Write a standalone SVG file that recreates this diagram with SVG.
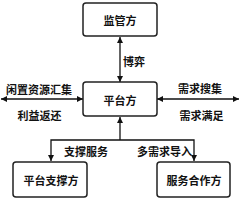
<svg xmlns="http://www.w3.org/2000/svg" width="240" height="200" viewBox="0 0 240 200">
<style>
.box{fill:#fff;stroke:#222;stroke-width:1.5}
.t{font-family:"Noto Sans CJK SC","Noto Sans",sans-serif;font-weight:bold;font-size:11px;fill:#111;text-anchor:middle;dominant-baseline:central}
.c{fill:none;stroke:#111;stroke-width:1.3}
</style>
<defs>
<marker id="ah" viewBox="0 0 10 10" refX="10" refY="5" markerWidth="6" markerHeight="6" orient="auto-start-reverse" markerUnits="userSpaceOnUse">
<path d="M0,0 L10,5 L0,10 Z" fill="#111"/>
</marker>
</defs>
<g id="connectors">
<line class="c" x1="120" y1="37" x2="120" y2="82" marker-start="url(#ah)" marker-end="url(#ah)"/>
<line class="c" x1="1" y1="99" x2="83" y2="99" marker-start="url(#ah)" marker-end="url(#ah)"/>
<line class="c" x1="157" y1="99" x2="239" y2="99" marker-start="url(#ah)" marker-end="url(#ah)"/>
<line class="c" x1="120" y1="140" x2="120" y2="117" marker-end="url(#ah)"/>
<polyline class="c" points="51,161 51,140 194,140 194,161" marker-start="url(#ah)" marker-end="url(#ah)"/>
<text class="t" x="134" y="61">博弈</text>
<text class="t" x="39" y="89">闲置资源汇集</text>
<text class="t" x="39.5" y="115">利益返还</text>
<text class="t" x="200" y="88">需求搜集</text>
<text class="t" x="201.5" y="115">需求满足</text>
<text class="t" x="86" y="151">支撑服务</text>
<text class="t" x="164.5" y="151">多需求导入</text>
</g>
<g id="jianguan">
<rect class="box" x="83" y="3" width="74" height="33" rx="3"/>
<text class="t" x="120" y="20">监管方</text>
</g>
<g id="pingtai">
<rect class="box" x="83" y="82" width="74" height="34" rx="3"/>
<text class="t" x="120" y="100">平台方</text>
</g>
<g id="zhicheng">
<rect class="box" x="13" y="162" width="74" height="35" rx="3"/>
<text class="t" x="51" y="180">平台支撑方</text>
</g>
<g id="hezuo">
<rect class="box" x="157" y="162" width="73" height="35" rx="3"/>
<text class="t" x="194" y="180">服务合作方</text>
</g>
</svg>
